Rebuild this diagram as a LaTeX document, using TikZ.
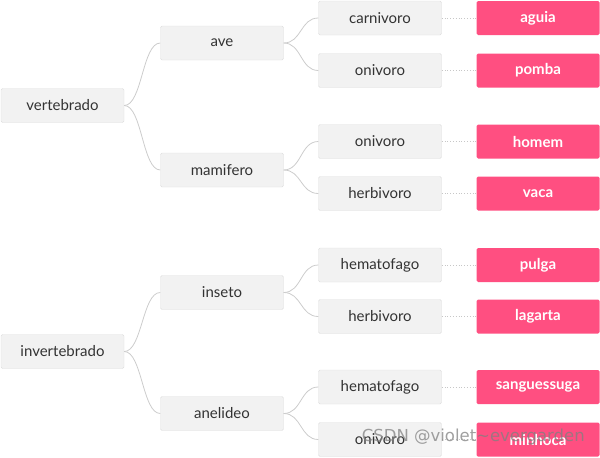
\documentclass[tikz,border=0pt]{standalone}
\usepackage{fontspec}
\setmainfont{Lato}
\setsansfont{DejaVu Sans}
\begin{document}
\begin{tikzpicture}[x=1pt,y=-1pt,
  gbox/.style={draw=black!13,fill=black!5,rounded corners=1.5pt,minimum width=123pt,minimum height=34pt,inner sep=0pt,font=\fontsize{15}{18}\selectfont,text=black!80},
  pbox/.style={fill=pinkc,rounded corners=1.5pt,minimum width=123pt,minimum height=34pt,inner sep=0pt,font=\fontsize{15}{18}\selectfont\bfseries,text=white},
  link/.style={draw=black!20,line width=0.8pt},
  dots/.style={draw=black!22,dotted,line width=0.8pt}]
\definecolor{pinkc}{HTML}{FF4F81}
\useasboundingbox (0,0) rectangle (600,458);
% level 1
\node[gbox] (vert) at (62.5,105.5) {vertebrado};
\node[gbox] (inv) at (62.5,351.5) {invertebrado};
% level 2
\node[gbox] (ave) at (222,43) {ave};
\node[gbox] (mam) at (222,170) {mamifero};
\node[gbox] (ins) at (222,292.5) {inseto};
\node[gbox] (ane) at (222,413.5) {anelideo};
% level 3
\node[gbox] (c1) at (380,18) {carnivoro};
\node[gbox] (c2) at (380,70.5) {onivoro};
\node[gbox] (c3) at (380,141.5) {onivoro};
\node[gbox] (c4) at (380,193.5) {herbivoro};
\node[gbox] (c5) at (380,265) {hematofago};
\node[gbox] (c6) at (380,316.5) {herbivoro};
\node[gbox] (c7) at (380,387) {hematofago};
\node[gbox] (c8) at (380,439.5) {onivoro};
% leaves
\node[pbox] (p1) at (538,18) {aguia};
\node[pbox] (p2) at (538,70.5) {pomba};
\node[pbox] (p3) at (538,141.5) {homem};
\node[pbox] (p4) at (538,193.5) {vaca};
\node[pbox] (p5) at (538,265) {pulga};
\node[pbox] (p6) at (538,316.5) {lagarta};
\node[pbox] (p7) at (538,387) {sanguessuga};
\node[pbox] (p8) at (538,439.5) {minhoca};
% curved links
\foreach \a/\b in {vert/ave,vert/mam,inv/ins,inv/ane,ave/c1,ave/c2,mam/c3,mam/c4,ins/c5,ins/c6,ane/c7,ane/c8}{
  \draw[link] (\a.east) .. controls ([xshift=18pt]\a.east) and ([xshift=-18pt]\b.west) .. (\b.west);
}
% dotted links
\foreach \i in {1,...,8}{
  \draw[dots] (c\i.east) -- (p\i.west);
}
% watermark
\node[text=black!50,opacity=0.75,font=\fontsize{16.5}{19}\selectfont\sffamily,anchor=east,inner sep=0pt] (wm) at (585,437) {CSDN @violet\textasciitilde evergarden};
\end{tikzpicture}
\end{document}
